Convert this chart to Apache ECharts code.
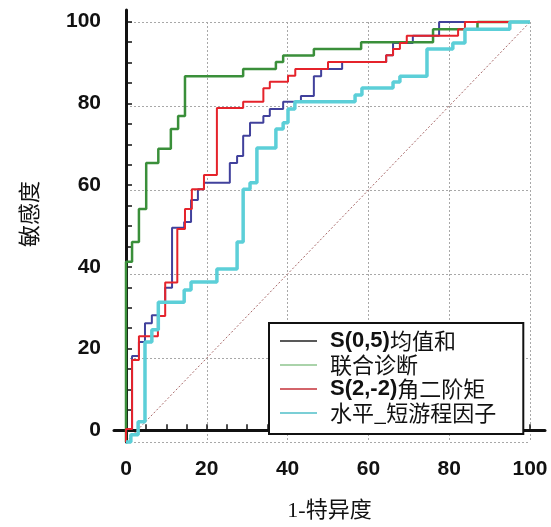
<!DOCTYPE html>
<html>
<head>
<meta charset="utf-8">
<script src="https://cdn.jsdelivr.net/npm/echarts@6/dist/echarts.min.js"></script>
<style>
  html, body { margin: 0; padding: 0; background: #fff; }
  #chart { width: 551px; height: 527px; }
</style>
</head>
<body>
<div id="chart"></div>
<script>
  // ROC 曲线数据 (1-特异度, 敏感度)，按阶梯拐点读取
  const seriesNames = ['S(0,5)均值和', '联合诊断', 'S(2,-2)角二阶矩', '水平_短游程因子'];

  const fprS05 = [0, 0, 1.5, 3.2, 4.7, 6.4, 8, 9.7, 11.4, 14.4, 16.1, 17.8, 19.3, 25.7, 27.5, 29, 30.7, 34, 35.6, 38.9, 43.3, 46.5, 48.3, 53.5, 64.4, 66.1, 71, 77.5, 100];
  const tprS05 = [0, 3.1, 20.5, 23.8, 28.3, 30.2, 33.3, 36.7, 51, 52.4, 57.6, 60.2, 61.7, 66.4, 68.1, 72.9, 76, 77.6, 79.3, 81, 82.4, 87.1, 88.8, 90.5, 92.1, 95, 96.7, 100, 100];

  const fprJoint = [0, 0, 1.5, 3.2, 5, 8, 11.1, 12.9, 14.6, 29, 37.1, 38.9, 46.5, 58.2, 76, 87, 100];
  const tprJoint = [0, 42.9, 47.6, 55.5, 66.4, 69.8, 74.5, 77.6, 87.1, 88.8, 90.5, 92, 93.6, 95.2, 98.3, 100, 100];

  const fprS22 = [0, 0, 1.5, 3.2, 7.9, 9.7, 12.7, 14.6, 16.3, 19.3, 22.5, 29, 34, 35.6, 40.1, 41.9, 50, 64.4, 66.1, 67.8, 69.5, 82.2, 83.9, 100];
  const tprS22 = [0, 3.1, 19.5, 25.2, 30, 38, 50.7, 55.5, 60.2, 63.6, 79.5, 81, 84.2, 85.8, 87.2, 88.8, 90.5, 92.1, 93.6, 95, 96.7, 98.3, 100, 100];

  const fprSRE = [0, 1.2, 3, 4.7, 6.4, 8, 14.4, 16.1, 22.5, 27.5, 29, 30.7, 32.4, 37.1, 38.9, 40.1, 41.8, 56.7, 58.4, 66.1, 67.8, 74.5, 80.9, 83.9, 95, 100];
  const tprSRE = [0, 1.7, 4.8, 23.8, 26.7, 33.3, 36.2, 38.1, 41.2, 47.6, 60.2, 61.7, 70, 74.5, 76, 79.3, 81, 82.6, 84.3, 85.7, 87.1, 93.6, 95, 98.3, 100, 100];

  const diagX = [0, 100];
  const diagY = [0, 100];

  const tickValues = [0, 5, 10, 15, 20, 25, 30, 35, 40, 45, 50, 55, 60, 65, 70, 75, 80, 85, 90, 95, 100];
  const labelValues = [0, 20, 40, 60, 80, 100];

  const colors = ['#41419c', '#3a8f3a', '#e5232b', '#5ccfd8'];
  const legendColors = ['#222222', '#8ec48e', '#c43038', '#4fbfc8'];
  const widths = [2, 2.5, 2, 3.5];

  const pair = (xs, ys) => xs.map((x, i) => [x, ys[i]]);
  const curves = [pair(fprS05, tprS05), pair(fprJoint, tprJoint), pair(fprS22, tprS22), pair(fprSRE, tprSRE)];

  const chart = echarts.init(document.getElementById('chart'));

  const labelFont = { fontFamily: '"Liberation Sans", Arial, sans-serif', fontWeight: 'bold', fontSize: 21, color: '#111' };
  const nameFont = { fontFamily: '"Liberation Serif", "Noto Sans CJK SC", serif', fontSize: 22, color: '#111' };

  const innerAxis = {
    type: 'value', gridIndex: 0, min: 0, max: 100, interval: 20,
    axisLine: { show: false }, axisTick: { show: false }, axisLabel: { show: false },
    splitLine: { show: true, lineStyle: { color: '#a8a8a8', type: [2, 2], width: 1 } }
  };

  let option = {
    animation: false,
    backgroundColor: '#fff',
    grid: [
      { left: 126, right: 21, top: 22, bottom: 85 },
      { left: 114, right: 6, top: 10, bottom: 73 }
    ],
    xAxis: [
      innerAxis,
      {
        type: 'value', gridIndex: 1, min: -2.97, max: 103.71,
        axisLine: { show: true, lineStyle: { color: '#111', width: 3 } },
        axisTick: { show: true, inside: true, length: 6, customValues: tickValues, lineStyle: { color: '#111', width: 1.5 } },
        axisLabel: { show: true, customValues: labelValues, margin: 17, ...labelFont },
        splitLine: { show: false },
        name: '1-特异度', nameLocation: 'middle', nameGap: 58, nameTextStyle: nameFont
      }
    ],
    yAxis: [
      innerAxis,
      {
        type: 'value', gridIndex: 1, min: -2.857, max: 102.86,
        axisLine: { show: true, lineStyle: { color: '#111', width: 3 } },
        axisTick: { show: true, inside: true, length: 6, customValues: tickValues, lineStyle: { color: '#111', width: 1.5 } },
        axisLabel: { show: true, customValues: labelValues, margin: 13, ...labelFont },
        splitLine: { show: false },
        name: '敏感度', nameLocation: 'middle', nameGap: 72,
        nameTextStyle: { ...nameFont, padding: [0, 0, 0, 24] }
      }
    ],
    legend: {
      left: 269, top: 323,
      orient: 'vertical',
      backgroundColor: '#fff',
      borderColor: '#111', borderWidth: 2,
      padding: [6, 27, 9, 11],
      icon: 'rect',
      itemWidth: 37, itemHeight: 1.5, itemGap: 0,
      data: seriesNames.map((n, i) => ({ name: n, itemStyle: { color: legendColors[i] } })),
      formatter: function(name) {
        let m = name.match(/^(S\([^)]*\))(.*)$/);
        if (m) return '{b|' + m[1] + '}{n|' + m[2] + '}';
        return '{n|' + name + '}';
      },
      textStyle: {
        color: '#111', fontSize: 22, lineHeight: 24, padding: [0, 0, 0, 8],
        rich: {
          b: { fontFamily: '"Liberation Sans", Arial, sans-serif', fontWeight: 'bold', fontSize: 22, lineHeight: 24, color: '#111' },
          n: { fontFamily: '"Noto Sans CJK SC", sans-serif', fontSize: 22, lineHeight: 24, color: '#111' }
        }
      }
    },
    series: []
  };

  option.series.push({
    name: 'diag', type: 'line', xAxisIndex: 0, yAxisIndex: 0,
    data: pair(diagX, diagY), symbol: 'none', silent: true, z: 1,
    lineStyle: { color: '#a86a6a', width: 1, type: [2, 2] }
  });

  seriesNames.forEach((n, i) => {
    option.series.push({
      name: n, type: 'line', xAxisIndex: 0, yAxisIndex: 0,
      data: curves[i], step: 'end', symbol: 'none', clip: false,
      z: 2 + i,
      lineStyle: { color: colors[i], width: widths[i] },
      itemStyle: { color: colors[i] }
    });
  });

  chart.setOption(option);
</script>
</body>
</html>
